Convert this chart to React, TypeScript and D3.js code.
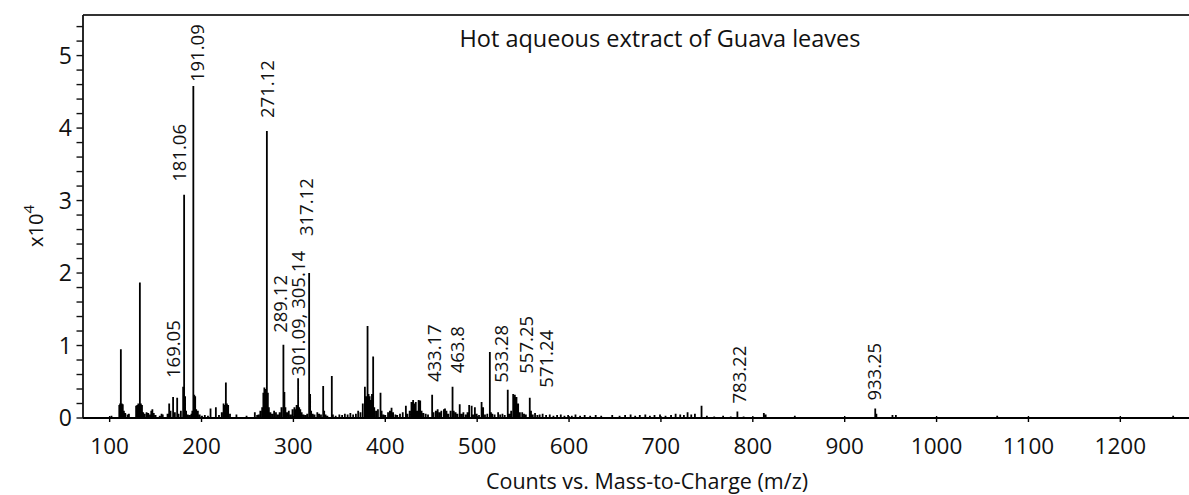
import React from "react";
import * as d3 from "d3";

// Stick spectrum: [m/z, counts in units of 10^4]
const peaks: [number, number][] = [
  [102.0, 0.03], [110.5, 0.18], [111.4, 0.2], [112.2, 0.95], [113.2, 0.2], [114.3, 0.19],
  [115.5, 0.1], [117.0, 0.07], [119.5, 0.05], [121.0, 0.06],
  [128.8, 0.17], [130.0, 0.18], [131.2, 0.2], [132.9, 1.87], [134.0, 0.2], [135.2, 0.18],
  [136.5, 0.08], [138.0, 0.06], [140.2, 0.08], [142.0, 0.07], [144.0, 0.05], [145.3, 0.1],
  [146.5, 0.12], [148.0, 0.07], [150.0, 0.04], [154.5, 0.03], [156.5, 0.06], [157.8, 0.05],
  [163.0, 0.06], [164.8, 0.2], [166.3, 0.1], [169.05, 0.29], [171.0, 0.08], [173.5, 0.28],
  [175.0, 0.06], [177.5, 0.1], [180.0, 0.43], [181.06, 3.08], [182.1, 0.3], [183.2, 0.1],
  [185.0, 0.05], [187.0, 0.04], [189.0, 0.06], [190.0, 0.1], [191.09, 4.58], [192.1, 0.32],
  [193.1, 0.3], [194.2, 0.12], [196.0, 0.1], [198.0, 0.05], [200.5, 0.03], [203.6, 0.04],
  [207.0, 0.03], [209.8, 0.13], [215.6, 0.15], [219.0, 0.04], [222.0, 0.08], [224.0, 0.2],
  [225.3, 0.18], [226.5, 0.49], [227.6, 0.2], [229.0, 0.18], [231.0, 0.06], [238.0, 0.05],
  [249.0, 0.03], [258.0, 0.08], [260.5, 0.04], [262.0, 0.05], [264.0, 0.1], [266.0, 0.15],
  [267.3, 0.35], [268.4, 0.42], [269.5, 0.4], [271.12, 3.96], [272.2, 0.35], [273.3, 0.15],
  [275.0, 0.08], [277.0, 0.06], [279.0, 0.1], [281.0, 0.08], [283.0, 0.05], [285.0, 0.08],
  [287.0, 0.15], [289.12, 1.01], [290.2, 0.36], [291.3, 0.15], [293.0, 0.08], [295.0, 0.1],
  [297.0, 0.05], [299.0, 0.12], [301.09, 0.15], [302.3, 0.12], [303.5, 0.18], [305.14, 0.55],
  [306.3, 0.15], [307.5, 0.12], [309.0, 0.08], [311.0, 0.05], [313.0, 0.04], [315.0, 0.06],
  [317.12, 2.0], [318.2, 0.33], [319.3, 0.1], [321.0, 0.06], [323.0, 0.05], [326.0, 0.08],
  [328.0, 0.06], [330.0, 0.05], [332.4, 0.44], [333.5, 0.1], [335.0, 0.05], [337.0, 0.03],
  [341.8, 0.58], [343.0, 0.05], [346.0, 0.03], [350.0, 0.05], [353.0, 0.04], [356.0, 0.06],
  [359.0, 0.05], [362.0, 0.07], [365.0, 0.05], [368.0, 0.06], [370.5, 0.1], [373.0, 0.08],
  [375.5, 0.2], [377.8, 0.43], [379.0, 0.3], [380.7, 1.27], [381.8, 0.33], [383.0, 0.3],
  [384.0, 0.25], [385.5, 0.33], [386.8, 0.85], [388.0, 0.15], [390.0, 0.1], [392.0, 0.12],
  [394.8, 0.35], [396.0, 0.1], [398.0, 0.05], [400.0, 0.04], [403.0, 0.08], [405.0, 0.1],
  [406.8, 0.14], [408.5, 0.08], [411.0, 0.05], [413.0, 0.04], [416.0, 0.06], [419.0, 0.08],
  [422.4, 0.17], [424.0, 0.06], [426.5, 0.1], [428.5, 0.22], [430.3, 0.25], [431.5, 0.2],
  [433.17, 0.22], [434.5, 0.1], [436.3, 0.25], [438.0, 0.24], [439.5, 0.1], [441.5, 0.07],
  [444.0, 0.06], [446.5, 0.05], [451.0, 0.32], [452.5, 0.08], [455.0, 0.1], [457.0, 0.12],
  [459.0, 0.08], [461.0, 0.1], [463.8, 0.12], [465.0, 0.13], [466.6, 0.1], [468.5, 0.06],
  [471.0, 0.1], [473.2, 0.43], [474.5, 0.1], [476.5, 0.08], [478.5, 0.06], [481.0, 0.19],
  [483.0, 0.06], [485.0, 0.08], [487.5, 0.05], [489.5, 0.08], [491.3, 0.18], [494.0, 0.17],
  [495.5, 0.05], [497.5, 0.15], [499.5, 0.06], [502.0, 0.04], [504.8, 0.22], [506.5, 0.15],
  [508.5, 0.05], [511.0, 0.06], [513.8, 0.91], [515.0, 0.08], [516.5, 0.06], [519.0, 0.05],
  [522.8, 0.08], [525.0, 0.05], [527.5, 0.06], [530.0, 0.04], [533.28, 0.39], [535.0, 0.06],
  [537.0, 0.1], [539.2, 0.33], [541.0, 0.32], [542.8, 0.29], [544.6, 0.2], [546.5, 0.08],
  [549.0, 0.08], [551.0, 0.06], [553.0, 0.05], [557.25, 0.28], [558.6, 0.1], [560.5, 0.05],
  [563.0, 0.07], [565.5, 0.04], [568.0, 0.05], [571.24, 0.06], [575.0, 0.04], [579.0, 0.05],
  [583.0, 0.03], [587.0, 0.04], [591.0, 0.05], [595.0, 0.03], [599.0, 0.04], [603.0, 0.03],
  [607.0, 0.05], [612.0, 0.03], [617.0, 0.04], [623.0, 0.03], [629.0, 0.04], [635.0, 0.03],
  [647.0, 0.04], [655.0, 0.03], [661.0, 0.04], [667.0, 0.05], [672.0, 0.03], [677.0, 0.04],
  [683.0, 0.05], [688.0, 0.03], [693.0, 0.04], [699.0, 0.05], [705.0, 0.03], [711.0, 0.04],
  [716.0, 0.06], [721.0, 0.05], [725.0, 0.04], [729.0, 0.08], [733.0, 0.05], [737.0, 0.06],
  [744.2, 0.17], [750.0, 0.03], [758.0, 0.02], [767.7, 0.03], [776.0, 0.02], [783.22, 0.09],
  [790.0, 0.02], [812.0, 0.07], [814.0, 0.05], [845.7, 0.03], [933.25, 0.13], [934.5, 0.06],
  [952.0, 0.04], [955.7, 0.04], [1066.0, 0.03], [1257.5, 0.03],
];

// Annotated peaks: the m/z each label belongs to and the text drawn
const labelMz = [169.05, 181.06, 191.09, 271.12, 289.12, 305.14, 317.12, 433.17, 463.8, 533.28, 557.25, 571.24, 783.22, 933.25];
const labelText = ["169.05", "181.06", "191.09", "271.12", "289.12", "301.09, 305.14", "317.12", "433.17", "463.8", "533.28", "557.25", "571.24", "783.22", "933.25"];

const xTicks = [100, 200, 300, 400, 500, 600, 700, 800, 900, 1000, 1100, 1200];
const yTicks = [0, 1, 2, 3, 4, 5];

const title = "Hot aqueous extract of Guava leaves";
const xTitle = "Counts vs. Mass-to-Charge (m/z)";

// Layout
const W = 1189;
const H = 495;
const plot = { left: 83, right: 1192, top: 15, bottom: 418 };
// gap in px between a peak's top and the start of its rotated label
const labelLift = [19, 13, 4, 13, 12, 2, 37, 20, 36, 7, 24, 26, 8, 8];
// sideways nudge in px so neighbouring labels do not collide
const labelNudge = [0, -5, 4, 0, -3, 0, -3, 19, 13, -6, -3, 4, 2, -1];
const FONT = "'Open Sans', 'Noto Sans', sans-serif";

export default function App() {
  const x = d3.scaleLinear().domain([71, 1278]).range([plot.left, plot.right]);
  const y = d3.scaleLinear().domain([0, 5.56]).range([plot.bottom, plot.top]);

  const sticks = peaks.map(([m, v]) => `M${x(m).toFixed(2)},${y(0)}V${y(v).toFixed(2)}`).join("");
  const minorY = d3.range(0, 28).map((i) => i * 0.2);
  const peakMap = new Map(peaks.map(([m, v]) => [m, v]));

  return (
    <svg width={W} height={H} style={{ position: "absolute", left: 0, top: 0, background: "#fff" }} fontFamily={FONT}>
      <rect x={0} y={0} width={W} height={H} fill="#fff" />

      {/* frame */}
      <line x1={plot.left} x2={W} y1={plot.top} y2={plot.top} stroke="#333" strokeWidth={2} />
      <line x1={plot.left} x2={plot.left} y1={plot.top} y2={plot.bottom} stroke="#111" strokeWidth={1.8} />

      {/* spectrum */}
      <path d={sticks} stroke="#000" strokeWidth={1.8} fill="none" />

      {/* baseline / x axis */}
      <line x1={plot.left} x2={W} y1={y(0)} y2={y(0)} stroke="#000" strokeWidth={2.2} />
      {xTicks.map((t) => (
        <g key={t} transform={`translate(${x(t)},${y(0)})`}>
          <line y1={-2} y2={4} stroke="#000" strokeWidth={1.4} />
          <text y={36} textAnchor="middle" fontSize={22.5} fill="#111">{t}</text>
        </g>
      ))}

      {/* y axis */}
      {minorY.map((t) => (
        <line key={t} x1={plot.left - 6.5} x2={plot.left} y1={y(t)} y2={y(t)} stroke="#111" strokeWidth={1.4} />
      ))}
      {yTicks.map((t) => (
        <text key={t} x={plot.left - 11} y={y(t)} dy="0.36em" textAnchor="end" fontSize={23} fill="#111">{t}</text>
      ))}
      <text transform={`translate(43,${y(2.65)}) rotate(-90)`} textAnchor="middle" fontSize={20} fill="#111">
        x10<tspan fontSize={15} dy={-9}>4</tspan>
      </text>

      {/* peak annotations */}
      {labelMz.map((m, i) => {
        const v = peakMap.get(m) ?? 0;
        return (
          <text key={labelText[i]} transform={`translate(${x(m) + labelNudge[i]},${y(v) - labelLift[i]}) rotate(-90)`} dy="0.36em" fontSize={18.5} fill="#111">
            {labelText[i]}
          </text>
        );
      })}

      {/* titles */}
      <text x={660} y={47} textAnchor="middle" fontSize={23.5} fill="#111">{title}</text>
      <text x={647} y={489} textAnchor="middle" fontSize={21.5} fill="#111">{xTitle}</text>
    </svg>
  );
}
